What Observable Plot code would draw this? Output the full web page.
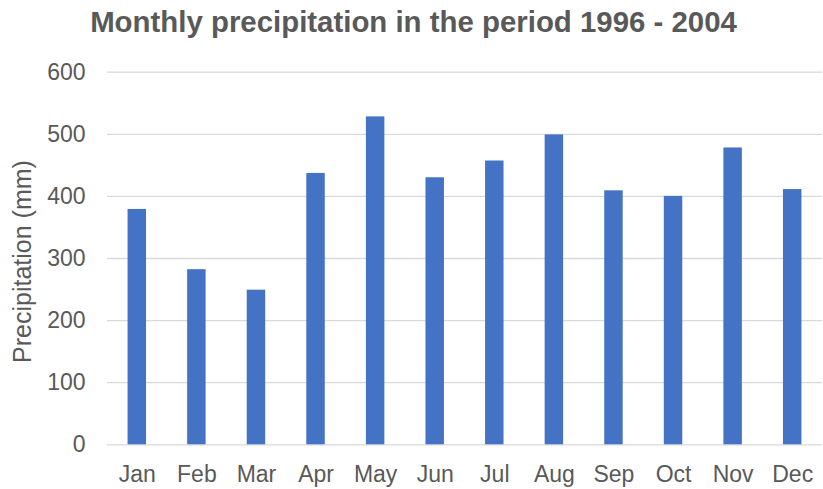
<!DOCTYPE html>
<html>
<head>
<meta charset="utf-8">
<script src="https://cdn.jsdelivr.net/npm/d3@7"></script>
<script src="https://cdn.jsdelivr.net/npm/@observablehq/plot@0.6"></script>
<style>
  html, body { margin: 0; padding: 0; background: #fff; }
  #title { height: 46px; line-height: 44px; text-align: center; font-family: "Liberation Sans", Arial, sans-serif; font-weight: bold; font-size: 29.4px; color: #595959; padding-left: 4px; box-sizing: border-box; white-space: nowrap; }
</style>
</head>
<body>
<div id="title">Monthly precipitation in the period 1996 - 2004</div>
<div id="chart"></div>
<script>
const months = ["Jan","Feb","Mar","Apr","May","Jun","Jul","Aug","Sep","Oct","Nov","Dec"];
const precipitation = [379, 282, 249, 437, 528, 430, 457, 499, 409, 400, 478, 411];
const yTicks = [0, 100, 200, 300, 400, 500, 600];
const yLabel = "Precipitation (mm)";

const data = months.map((m, i) => ({month: m, value: precipitation[i]}));

const chart = Plot.plot({
  width: 823,
  height: 443,
  marginLeft: 107,
  marginRight: 1,
  marginTop: 25.7,
  marginBottom: 44.7,
  style: {fontFamily: "'Liberation Sans', Arial, sans-serif", fontSize: "23px", color: "#595959", background: "#fff"},
  x: {domain: months, paddingInner: 0.69, paddingOuter: 0.345, round: false, label: null},
  y: {domain: [0, 600]},
  marks: [
    Plot.gridY(yTicks, {stroke: "#d9d9d9", strokeOpacity: 1, strokeWidth: 1.3}),
    Plot.barY(data, {x: "month", y: "value", fill: "#4472C4"}),
    Plot.axisX({tickSize: 0, tickPadding: 21, fontSize: 23, fill: "#595959", label: null}),
    Plot.axisY({ticks: yTicks, tickSize: 0, tickPadding: 22, fontSize: 23, fill: "#595959", label: null}),
    Plot.text([yLabel], {frameAnchor: "left", rotate: -90, dx: -85, dy: 3, lineAnchor: "middle", textAnchor: "middle", fontSize: 25, fill: "#595959"})
  ]
});
document.getElementById("chart").appendChild(chart);
</script>
</body>
</html>
